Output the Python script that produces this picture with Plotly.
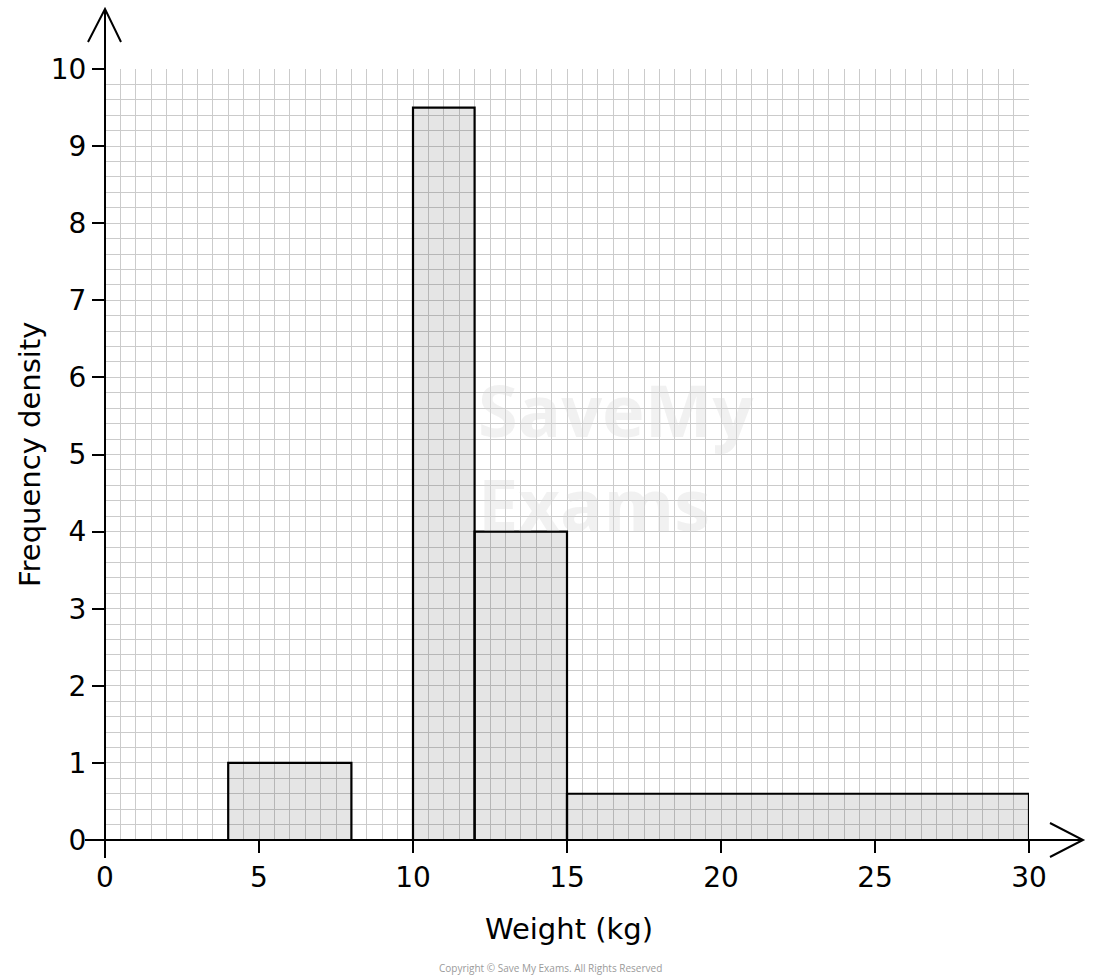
import plotly.graph_objects as go

# Data
lower_bounds = [4, 10, 12, 15]
upper_bounds = [8, 12, 15, 30]
freq_density = [1, 9.5, 4, 0.6]
x_ticks = [0, 5, 10, 15, 20, 25, 30]
y_ticks = [0, 1, 2, 3, 4, 5, 6, 7, 8, 9, 10]

mids = [(a + b) / 2 for a, b in zip(lower_bounds, upper_bounds)]
widths = [b - a for a, b in zip(lower_bounds, upper_bounds)]

W, H = 1100, 977
L, R, T, B = 105, 71, 69, 137
PW, PH = W - L - R, H - T - B
FONT = "DejaVu Sans"


def px(xp):
    return (xp - L) / PW


def py(yp):
    return (H - B - yp) / PH


fig = go.Figure()
fig.add_trace(go.Bar(
    x=mids, y=freq_density, width=widths, base=0,
    marker=dict(color="rgba(0,0,0,0.10)", line=dict(color="black", width=2.2)),
    hoverinfo="skip", showlegend=False,
))

grid_col = "#cbcbcb"
fig.update_xaxes(
    range=[0, 30], tickvals=x_ticks, ticktext=[str(v) for v in x_ticks],
    showgrid=True, gridcolor=grid_col, gridwidth=1,
    minor=dict(dtick=0.5, showgrid=True, gridcolor=grid_col, gridwidth=1, ticks=""),
    ticks="outside", ticklen=12, tickwidth=2, tickcolor="black",
    tickfont=dict(family=FONT, size=28, color="black"),
    showline=False, zeroline=False, fixedrange=True,
)
fig.update_yaxes(
    range=[0, 10], tickvals=y_ticks, ticktext=[str(v) for v in y_ticks],
    showgrid=True, gridcolor=grid_col, gridwidth=1,
    minor=dict(dtick=0.2, showgrid=True, gridcolor=grid_col, gridwidth=1, ticks=""),
    ticks="outside", ticklen=12, tickwidth=2, tickcolor="black",
    tickfont=dict(family=FONT, size=28, color="black"),
    showline=False, zeroline=False, fixedrange=True,
)

shapes = []
line = dict(color="black", width=2)
# y axis with arrow
shapes.append(dict(type="line", xref="paper", yref="paper",
                   x0=px(105), y0=py(858), x1=px(105), y1=py(9), line=line))
shapes.append(dict(type="path", xref="paper", yref="paper",
                   path=f"M {px(88)} {py(42)} L {px(105)} {py(9)} L {px(121)} {py(42)}",
                   line=line))
# x axis with arrow
shapes.append(dict(type="line", xref="paper", yref="paper",
                   x0=px(85), y0=py(840), x1=px(1083), y1=py(840), line=line))
shapes.append(dict(type="path", xref="paper", yref="paper",
                   path=f"M {px(1050)} {py(823)} L {px(1083)} {py(840)} L {px(1050)} {py(857)}",
                   line=line))

annotations = [
    dict(text="Weight (kg)", xref="paper", yref="paper", x=px(569), y=py(929),
         showarrow=False, font=dict(family=FONT, size=29, color="black"),
         xanchor="center", yanchor="middle"),
    dict(text="Frequency density", xref="paper", yref="paper", x=px(30), y=py(455),
         showarrow=False, textangle=-90, font=dict(family=FONT, size=29, color="black"),
         xanchor="center", yanchor="middle"),
    dict(text="Copyright © Save My Exams. All Rights Reserved", xref="paper", yref="paper",
         x=px(550), y=py(968), showarrow=False,
         font=dict(family="Open Sans", size=10, color="#9a9a9a"),
         xanchor="center", yanchor="middle"),
    dict(text="<b>SaveMy<br>Exams</b>", xref="paper", yref="paper",
         x=px(476), y=py(456), showarrow=False, align="left",
         font=dict(family="Open Sans", size=72, color="rgba(215,215,215,0.35)"),
         xanchor="left", yanchor="middle"),
]

fig.update_layout(
    width=W, height=H,
    margin=dict(l=L, r=R, t=T, b=B),
    plot_bgcolor="white", paper_bgcolor="white",
    shapes=shapes, annotations=annotations,
    bargap=0, showlegend=False,
)

fig.write_html(
    "out.html",
    config={"displayModeBar": False, "staticPlot": True},
    post_script="document.body.style.margin='0px';document.body.style.overflow='hidden';",
)
